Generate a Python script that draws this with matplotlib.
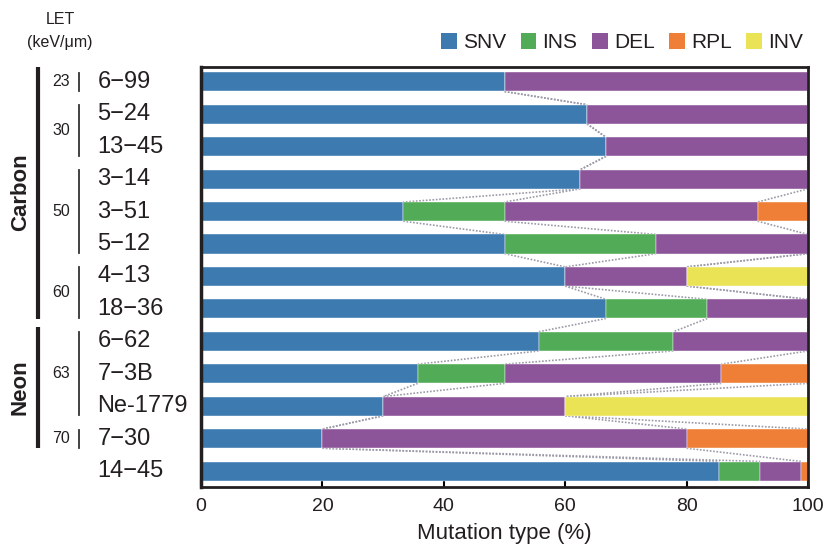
import numpy as np
import matplotlib.pyplot as plt
from matplotlib.patches import Patch

plt.rcParams['font.family'] = ['Liberation Sans', 'DejaVu Sans']

samples = ['6\u221299', '5\u221224', '13\u221245', '3\u221214', '3\u221251', '5\u221212',
           '4\u221213', '18\u221236', '6\u221262', '7\u22123B', 'Ne-1779', '7\u221230', '14\u221245']
snv = [50.0, 63.6, 66.7, 62.5, 33.3, 50.0, 60.0, 66.7, 55.6, 35.7, 30.0, 20.0, 85.4]
ins = [0, 0, 0, 0, 16.7, 25.0, 0, 16.7, 22.2, 14.3, 0, 0, 6.7]
dele = [50.0, 36.4, 33.3, 37.5, 41.7, 25.0, 20.0, 16.6, 22.2, 35.7, 30.0, 60.0, 6.8]
rpl = [0, 0, 0, 0, 8.3, 0, 0, 0, 0, 14.3, 0, 20.0, 1.1]
inv = [0, 0, 0, 0, 0, 0, 20.0, 0, 0, 0, 40.0, 0, 0]

mut_types = ['SNV', 'INS', 'DEL', 'RPL', 'INV']
colors = ['#3c7ab0', '#52ab56', '#8c5499', '#ef7f37', '#e9e355']

# LET groups: (value, first row, last row)
let_groups = [('23', 0, 0), ('30', 1, 2), ('50', 3, 5), ('60', 6, 7), ('63', 8, 10), ('70', 11, 11)]
ions = [('Carbon', 0, 7), ('Neon', 8, 11)]

txt = '#231f20'
h = 0.59

fig = plt.figure(figsize=(8.24, 5.49), dpi=100)
ax = fig.add_axes([0.244, 0.113, 0.7366, 0.765])

vals = np.array([snv, ins, dele, rpl, inv])
cum = np.vstack([np.zeros(len(samples)), np.cumsum(vals, axis=0)])
y = np.arange(len(samples))

for k in range(len(mut_types)):
    ax.barh(y, vals[k], left=cum[k], height=h, color=colors[k],
            edgecolor='white', linewidth=0.3, zorder=2)

# series lines between neighbouring bars
for k in range(1, len(mut_types)):
    for i in range(len(samples) - 1):
        ax.plot([cum[k][i], cum[k][i + 1]], [i + h / 2, i + 1 - h / 2],
                color='#9a9aa8', ls=(0, (1, 1)), lw=1.2, zorder=1)

ax.set_xlim(0, 100)
ax.set_ylim(12.49, -0.46)
ax.set_xticks([0, 20, 40, 60, 80, 100])
ax.set_yticks([])
ax.tick_params(axis='x', direction='in', length=5, width=1.5, labelsize=14,
               labelcolor=txt, pad=8)
for s in ax.spines.values():
    s.set_linewidth(2)
    s.set_color('#231f20')
ax.spines['left'].set_linewidth(2.5)
ax.set_xlabel('Mutation type (%)', fontsize=16, color=txt, labelpad=6)

tr = ax.get_yaxis_transform()
for i, name in enumerate(samples):
    ax.text(-0.171, i, name, transform=tr, fontsize=17, color=txt,
            ha='left', va='center')

for let, a, b in let_groups:
    ax.plot([-0.201, -0.201], [a - 0.28, b + 0.28], transform=tr, color='#333333',
            lw=1.3, clip_on=False)
    ax.text(-0.216, (a + b) / 2, let, transform=tr, fontsize=11.5, color=txt,
            ha='right', va='center')

for ion, a, b in ions:
    ax.plot([-0.2685, -0.2685], [a - 0.45, b + 0.3], transform=tr, color='#231f20',
            lw=3, clip_on=False, solid_capstyle='butt')
    ax.text(-0.298, (a + b) / 2 - 0.1, ion, transform=tr, fontsize=16, fontweight='bold',
            color=txt, rotation=90, ha='center', va='center')

fig.text(60 / 824, 1 - 20 / 549, 'LET', fontsize=11.5, color=txt, ha='center', va='center')
fig.text(60 / 824, 1 - 42 / 549, '(keV/\u03bcm)', fontsize=11.5, color=txt,
         ha='center', va='center')

handles = [Patch(facecolor=c, edgecolor='none') for c in colors]
ax.legend(handles, mut_types, loc='lower right', bbox_to_anchor=(1.016, 1.0), ncol=5,
          frameon=False, fontsize=15, handlelength=0.75, handleheight=0.75,
          handletextpad=0.3, columnspacing=0.7, borderpad=0.2, labelcolor=txt)

fig.savefig('out.png', dpi=100)
